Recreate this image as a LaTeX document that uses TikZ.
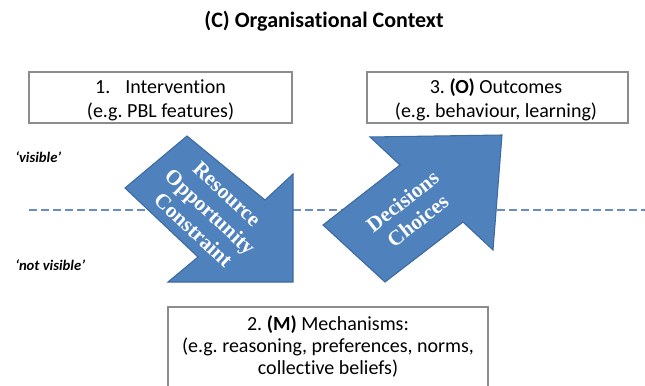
\documentclass[tikz,border=0pt]{standalone}
\usepackage{fontspec}
\setmainfont{Carlito}[Ligatures=NoCommon]
\newfontfamily\timesfont{Liberation Serif}
\usepackage{xcolor}
\definecolor{arrowblue}{HTML}{4F81BD}
\definecolor{arrowedge}{HTML}{3D6A9F}
\definecolor{dashblue}{HTML}{6A8BC3}
\definecolor{boxgray}{HTML}{8C8C8C}
\frenchspacing

\begin{document}
\begin{tikzpicture}[x=0.75pt, y=-0.75pt,
  boxframe/.style={draw=boxgray, line width=0.9pt, inner sep=0pt},
  boxtext/.style={align=center, inner sep=0pt, font=\fontsize{15}{18}\selectfont},
  sidetext/.style={anchor=west, inner sep=0pt, font=\fontsize{11}{13}\selectfont\bfseries\itshape},
  arrowtext/.style={align=center, inner sep=0pt, text=white, font=\fontsize{16}{18.5}\selectfont\timesfont\bfseries},
  bigarrow/.style={fill=arrowblue, draw=arrowedge, line width=0.8pt, line join=miter}]
\useasboundingbox (0,0) rectangle (645,385);
%title
\node[font=\fontsize{16.5}{20}\selectfont\bfseries] (title) at (324,21) {(C) Organisational Context};
%boxes
\node[boxframe, minimum width=263*0.75pt, minimum height=51*0.75pt] (intervbox) at (160.5,97.5) {};
\node[boxtext] (interv) at (160.5,100) {1.\hspace{0.75em}Intervention\\(e.g. PBL features)};
\node[boxframe, minimum width=261*0.75pt, minimum height=51*0.75pt] (outbox) at (497.5,97.5) {};
\node[boxtext] (outcome) at (496,100) {3. \textbf{(O)} Outcomes\\(e.g. behaviour, learning)};
\node[boxframe, minimum width=320*0.75pt, minimum height=93*0.75pt] (mechbox) at (328,353.5) {};
\node[boxtext, font=\fontsize{15}{16.5}\selectfont] (mech) at (328,346.5) {2. \textbf{(M)} Mechanisms:\\(e.g. reasoning, preferences, norms,\\collective beliefs)};
%visible / not visible
\coordinate (lineL) at (29,210);
\coordinate (lineR) at (645,210);
\draw[dashblue, line width=1.5pt, dash pattern=on 6pt off 3pt] (lineL) -- (lineR);
\node[sidetext] (vis) at (15,157) {‘visible’};
\node[sidetext] (notvis) at (15,265) {‘not visible’};
%arrows
\draw[bigarrow] (125,188) -- (187,136) -- (265,200) -- (293,174) -- (293,282) -- (168,282) -- (198,257) -- cycle;
\node[arrowtext, rotate=-43] (resource) at (210,212) {Resource\\Opportunity\\Constraint};
\draw[bigarrow] (323,225) -- (400,165) -- (370,137) -- (502,135) -- (493,250) -- (463,222) -- (385,282) -- cycle;
\node[arrowtext, rotate=38] (decision) at (410,211) {Decisions\\Choices};
\end{tikzpicture}
\end{document}
